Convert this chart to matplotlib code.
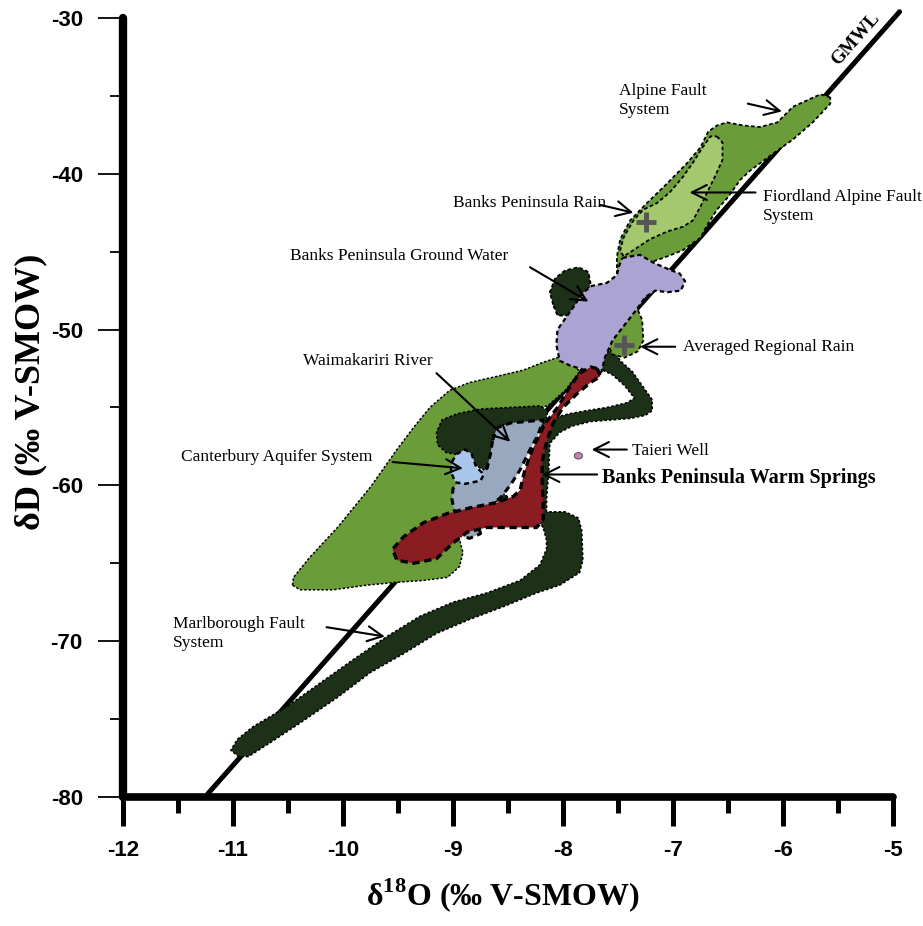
import matplotlib
matplotlib.use("Agg")
import matplotlib.pyplot as plt
from matplotlib.patches import Polygon, Ellipse
from matplotlib.ticker import MultipleLocator

# Global meteoric water line end points (d18O, dD)
gmwl_d18o = [-11.23, -4.94]
gmwl_dD = [-79.8, -29.6]

# Canterbury aquifer / large green wedge
cant_d18o = [-10.46, -10.45, -10.30, -10.05, -9.75, -9.51, -9.36, -9.21, -9.03, -8.85,
             -8.60, -8.36, -8.18, -8.05, -7.92, -7.85, -7.98, -8.14, -8.39, -8.75,
             -9.01, -8.92, -8.88, -8.92, -8.96, -8.94, -8.91, -8.94, -9.05, -9.27,
             -9.48, -9.78, -10.09, -10.39]
cant_dD = [-66.4, -65.9, -64.6, -62.7, -60.1, -57.7, -56.3, -55.0, -53.9, -53.4,
           -53.0, -52.6, -52.1, -51.8, -52.0, -52.7, -53.9, -54.9, -55.2, -55.2,
           -56.8, -58.4, -60.3, -61.9, -63.0, -63.5, -64.3, -65.2, -65.9, -66.1,
           -66.2, -66.4, -66.7, -66.7]

# Marlborough Fault System (dark band, hook and Z)
marl_d18o = [-8.18, -8.30, -8.50, -8.65, -8.60, -8.48, -8.30, -8.23, -8.16, -8.12,
             -8.05, -7.94, -7.78, -7.60, -7.42, -7.35, -7.44, -7.55, -7.73, -7.55,
             -7.48, -7.37, -7.28, -7.19, -7.19, -7.25, -7.39, -7.57, -7.75, -7.92,
             -8.03, -8.12, -8.13, -8.15, -8.15, -7.98, -7.86, -7.83, -7.82, -7.85,
             -8.03, -8.24, -8.55, -8.85, -9.15, -9.45, -9.75, -10.05, -10.36, -10.66,
             -10.86, -10.95, -11.02, -10.96, -10.82, -10.51, -10.21, -9.91, -9.60, -9.30,
             -9.00, -8.69, -8.39, -8.21, -8.15, -8.15]
marl_dD = [-62.7, -61.6, -61.1, -61.0, -60.1, -60.9, -60.7, -59.0, -57.1, -55.8,
           -55.6, -55.4, -55.2, -55.0, -54.7, -54.4, -53.6, -52.9, -52.3, -51.2,
           -52.0, -52.7, -53.6, -54.5, -55.2, -55.5, -55.7, -55.8, -55.9, -56.2,
           -56.6, -57.3, -59.0, -60.9, -61.7, -61.7, -62.1, -62.9, -64.8, -65.6,
           -66.4, -66.9, -67.8, -68.6, -69.5, -70.8, -72.0, -73.6, -75.1, -76.5,
           -77.4, -77.4, -77.0, -76.3, -75.5, -74.2, -72.7, -71.2, -69.7, -68.4,
           -67.5, -66.9, -66.1, -65.1, -64.1, -63.5]

# dark region under the Waimakariri River field
wdark_d18o = [-8.14, -8.21, -8.48, -8.75, -8.96, -9.10, -9.15, -9.14, -9.06, -8.97,
              -8.80, -8.62, -8.53, -8.44, -8.32, -8.16]
wdark_dD = [-55.2, -54.9, -55.0, -55.1, -55.4, -55.8, -56.6, -57.4, -57.9, -58.0,
            -58.7, -59.4, -59.1, -58.0, -56.9, -56.1]

# dark blob beside the ground water field
blob_d18o = [-8.09, -8.12, -8.07, -7.98, -7.86, -7.77, -7.75, -7.80, -7.94, -8.05]
blob_dD = [-48.4, -47.6, -46.7, -46.2, -46.0, -46.3, -47.0, -48.1, -49.1, -49.1]

# Alpine Fault System
alp_d18o = [-5.57, -5.66, -5.91, -6.05, -6.21, -6.36, -6.51, -6.60, -6.68, -6.75,
            -6.87, -7.05, -7.24, -7.39, -7.48, -7.51, -7.51, -7.30, -7.21, -7.05,
            -6.91, -6.75, -6.69, -6.60, -6.50, -6.39, -6.30, -6.09, -5.91, -5.73,
            -5.57]
alp_dD = [-35.1, -34.9, -35.7, -36.7, -37.0, -36.9, -36.7, -36.9, -37.3, -38.3,
          -39.3, -40.6, -41.9, -43.0, -44.2, -45.3, -46.6, -46.5, -45.7, -45.3,
          -44.9, -44.1, -43.3, -42.3, -41.5, -40.4, -39.8, -38.7, -37.8, -36.7,
          -35.5]

# Fiordland Alpine Fault System / Banks Peninsula rain (light green)
fio_d18o = [-6.60, -6.55, -6.55, -6.62, -6.69, -6.75, -6.82, -6.91, -7.05, -7.21,
            -7.36, -7.45, -7.48, -7.45, -7.36, -7.27, -7.15, -7.03, -6.91, -6.82,
            -6.73, -6.66]
fio_dD = [-37.6, -38.0, -39.1, -40.2, -41.2, -42.1, -43.0, -43.4, -43.7, -44.2,
          -44.9, -45.3, -44.9, -44.1, -43.0, -42.3, -41.9, -41.2, -40.2, -39.3,
          -38.3, -37.6]

# Averaged regional rain field
avg_d18o = [-7.34, -7.28, -7.27, -7.32, -7.44, -7.55, -7.59, -7.54, -7.44]
avg_dD = [-48.4, -49.4, -50.7, -51.4, -51.8, -51.6, -51.0, -50.0, -49.3]

# Banks Peninsula ground water
gw_d18o = [-7.46, -7.30, -7.18, -7.05, -6.94, -6.89, -6.93, -7.05, -7.16, -7.25,
           -7.33, -7.44, -7.55, -7.62, -7.65, -7.70, -7.80, -7.94, -8.03, -8.06,
           -8.05, -7.98, -7.89, -7.83, -7.74, -7.60, -7.51, -7.49]
gw_dD = [-45.4, -45.2, -45.7, -46.1, -46.4, -46.9, -47.5, -47.6, -47.5, -47.9,
         -48.7, -49.7, -50.7, -51.8, -52.7, -53.0, -52.6, -52.3, -52.0, -51.0,
         -50.0, -49.3, -48.4, -47.7, -47.2, -47.0, -46.5, -45.9]

# Waimakariri River
wai_d18o = [-8.64, -8.60, -8.48, -8.18, -8.23, -8.30, -8.39, -8.48, -8.57, -8.71,
            -8.77, -8.75, -8.85, -8.94, -8.97, -9.01, -9.00, -8.92, -8.77, -8.69,
            -8.66]
wai_dD = [-57.1, -56.3, -56.0, -55.8, -56.8, -57.7, -59.0, -60.0, -60.8, -61.5,
          -62.5, -63.1, -63.4, -63.2, -62.2, -60.9, -60.2, -59.5, -59.3, -58.9,
          -58.0]

# Canterbury Aquifer System (light blue)
aq_d18o = [-9.01, -8.97, -8.89, -8.83, -8.79, -8.72, -8.75, -8.89, -8.98, -9.02]
aq_dD = [-58.5, -58.0, -57.7, -58.0, -58.8, -59.3, -59.7, -59.9, -59.8, -59.1]

# Banks Peninsula Warm Springs
bpws_d18o = [-7.69, -7.66, -7.75, -7.87, -8.00, -8.09, -8.15, -8.19, -8.19, -8.18,
             -8.18, -8.24, -8.45, -8.69, -8.87, -9.00, -9.15, -9.36, -9.51, -9.55,
             -9.45, -9.27, -9.05, -8.82, -8.60, -8.45, -8.39, -8.35, -8.28, -8.16,
             -8.05, -7.94, -7.85, -7.75]
bpws_dD = [-52.5, -53.0, -53.4, -54.1, -55.0, -56.0, -57.2, -58.5, -59.7, -61.1,
           -62.2, -62.7, -62.7, -62.7, -63.0, -63.7, -64.7, -65.0, -64.8, -64.1,
           -63.3, -62.4, -61.8, -61.4, -61.1, -60.7, -60.3, -59.1, -57.7, -56.0,
           -55.0, -53.7, -52.8, -52.4]

# rain means (+) and Taieri Well
rain_d18o = [-7.25, -7.45]
rain_dD = [-43.1, -51.0]
taieri_d18o = -7.86
taieri_dD = -58.1

# labels: text, left/centre position
labels = [
    ("Alpine Fault\nSystem", (-7.49, -35.3)),
    ("Banks Peninsula Rain", (-9.00, -41.9)),
    ("Fiordland Alpine Fault\nSystem", (-6.18, -42.1)),
    ("Banks Peninsula Ground Water", (-10.48, -45.3)),
    ("Averaged Regional Rain", (-6.91, -51.1)),
    ("Waimakariri River", (-10.36, -52.0)),
    ("Canterbury Aquifer System", (-11.47, -58.2)),
    ("Taieri Well", (-7.37, -57.8)),
    ("Marlborough Fault\nSystem", (-11.55, -69.5)),
]
# arrows: tail, head
arrows = [
    ((-6.32, -35.5), (-6.01, -36.0)),
    ((-7.66, -42.0), (-7.36, -42.5)),
    ((-6.25, -41.2), (-6.85, -41.2)),
    ((-8.30, -46.0), (-7.77, -48.2)),
    ((-6.98, -51.1), (-7.30, -51.1)),
    ((-9.15, -52.8), (-8.48, -57.2)),
    ((-9.55, -58.5), (-8.91, -58.9)),
    ((-7.42, -57.7), (-7.74, -57.7)),
    ((-7.69, -59.3), (-8.19, -59.3)),
    ((-10.15, -69.1), (-9.62, -69.7)),
]


def add_region(ax, xs, ys, color, z, lw=1.3, dash=(2.0, 1.4)):
    poly = Polygon(list(zip(xs, ys)), closed=True, facecolor=color,
                   edgecolor="black", linewidth=lw, linestyle=(0, dash),
                   joinstyle="round", zorder=z)
    ax.add_patch(poly)


def main() -> None:
    plt.rcParams["font.family"] = ["Liberation Serif", "DejaVu Serif"]
    plt.rcParams["axes.unicode_minus"] = False
    plt.rcParams["mathtext.fontset"] = "custom"
    plt.rcParams["mathtext.rm"] = "Liberation Serif:bold"
    plt.rcParams["mathtext.bf"] = "Liberation Serif:bold"

    fig = plt.figure(figsize=(9.23, 9.26), dpi=100)
    ax = fig.add_axes([0.1333, 0.1393, 0.8342, 0.8413])

    ax.plot(gmwl_d18o, gmwl_dD, color="black", lw=3.6, solid_capstyle="round",
            zorder=1, clip_on=False)
    ax.text(-5.343, -31.335, "GMWL", rotation=48.6, ha="center", va="center",
            rotation_mode="anchor", fontsize=13.5, fontweight="bold")

    green = "#6a9d39"
    dark = "#1d3118"
    add_region(ax, cant_d18o, cant_dD, green, 2, lw=1.1, dash=(1.6, 1.2))
    add_region(ax, marl_d18o, marl_dD, dark, 3, lw=1.2, dash=(1.6, 1.2))
    add_region(ax, wdark_d18o, wdark_dD, dark, 3, lw=1.2, dash=(1.6, 1.2))
    add_region(ax, blob_d18o, blob_dD, dark, 3)
    add_region(ax, alp_d18o, alp_dD, green, 4)
    add_region(ax, fio_d18o, fio_dD, "#a3c86e", 5)
    add_region(ax, avg_d18o, avg_dD, green, 5)
    add_region(ax, gw_d18o, gw_dD, "#aba4d3", 6, lw=1.6)
    add_region(ax, wai_d18o, wai_dD, "#98a8be", 7, lw=2.2, dash=(2.2, 1.5))
    add_region(ax, aq_d18o, aq_dD, "#a8c6ec", 8, lw=1.8, dash=(2.0, 1.5))
    add_region(ax, bpws_d18o, bpws_dD, "#8b1d22", 9, lw=2.4, dash=(2.2, 1.4))

    ax.plot(rain_d18o, rain_dD, linestyle="none", marker="+", markersize=15,
            markeredgewidth=3.5, color="#555555", zorder=10)
    ax.add_patch(Ellipse((taieri_d18o, taieri_dD), 0.075, 0.42,
                         facecolor="#c480b2", edgecolor="#444444", lw=0.6, zorder=10))

    for text, (tx, ty) in labels:
        ax.text(tx, ty, text, ha="left", va="center", fontsize=12.5,
                linespacing=1.3, zorder=12)
    ax.text(-7.65, -59.5, "Banks Peninsula Warm Springs", ha="left", va="center",
            fontsize=14.5, fontweight="bold", zorder=12)

    for tail, head in arrows:
        ax.annotate("", xy=head, xytext=tail, zorder=12,
                    arrowprops=dict(arrowstyle="->,head_length=0.9,head_width=0.45",
                                    lw=1.5, color="black", shrinkA=0, shrinkB=0,
                                    mutation_scale=12))

    ax.set_xlim(-12, -5)
    ax.set_ylim(-80, -30)
    ax.xaxis.set_major_locator(MultipleLocator(1))
    ax.xaxis.set_minor_locator(MultipleLocator(0.5))
    ax.yaxis.set_major_locator(MultipleLocator(10))
    ax.yaxis.set_minor_locator(MultipleLocator(5))

    for side in ("top", "right"):
        ax.spines[side].set_visible(False)
    ax.spines["left"].set_linewidth(6)
    ax.spines["bottom"].set_linewidth(5.5)
    ax.spines["left"].set_capstyle("round")
    ax.spines["bottom"].set_capstyle("round")

    ax.tick_params(axis="y", which="major", direction="out", length=18, width=1.3,
                   pad=11, labelsize=16)
    ax.tick_params(axis="y", which="minor", direction="out", length=9.5, width=1.3)
    ax.tick_params(axis="x", which="major", direction="out", length=21, width=3.6,
                   pad=10, labelsize=16)
    ax.tick_params(axis="x", which="minor", direction="out", length=11.5, width=3.6)
    for lab in ax.get_xticklabels() + ax.get_yticklabels():
        lab.set_fontfamily("Liberation Sans")
        lab.set_fontweight("bold")

    ax.set_xlabel("δ$^{18}$O (‰ V-SMOW)", fontsize=23, fontweight="bold")
    ax.set_ylabel("δD (‰ V-SMOW)", fontsize=26, fontweight="bold")
    ax.xaxis.set_label_coords(0.4935, -0.102)
    ax.yaxis.set_label_coords(-0.0985, 0.52)

    fig.savefig("out.png", dpi=100)


if __name__ == "__main__":
    main()
